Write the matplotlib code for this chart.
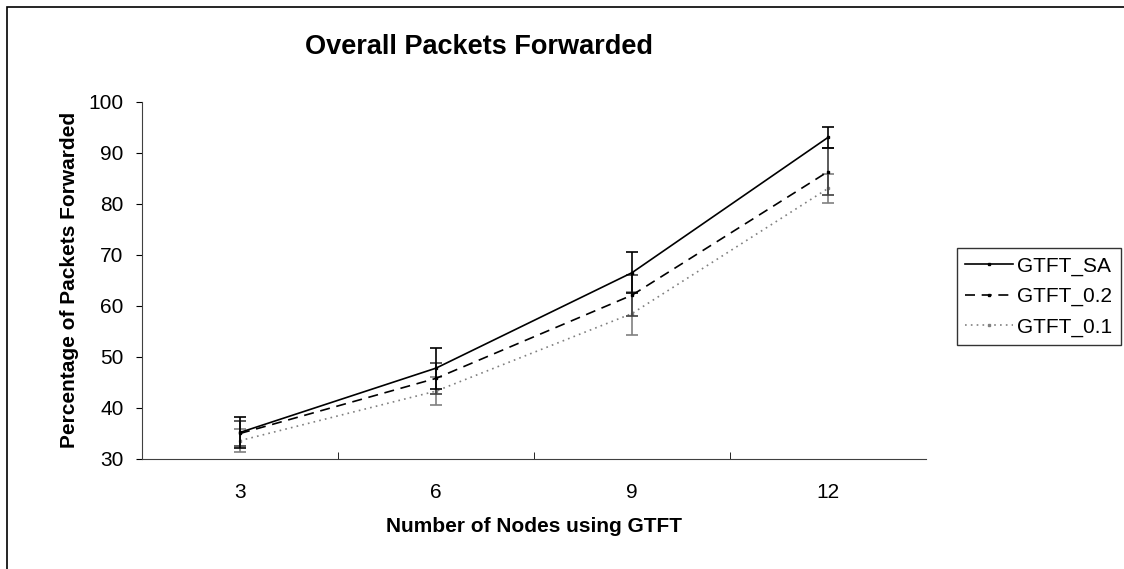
import numpy as np
import matplotlib
matplotlib.use("Agg")
import matplotlib.pyplot as plt
from matplotlib.patches import Rectangle

plt.rcParams['font.family'] = ['Liberation Sans', 'DejaVu Sans']

nodes = ["3", "6", "9", "12"]
sa = [35.2, 47.8, 66.5, 93.0]
sa_err = [3.0, 4.0, 4.0, 2.0]
g02 = [35.0, 45.8, 62.1, 86.3]
g02_err = [2.5, 3.0, 4.0, 4.6]
g01 = [33.6, 43.3, 58.5, 83.0]
g01_err = [2.2, 2.7, 4.2, 2.8]

fig = plt.figure(figsize=(11.24, 5.69), dpi=100)
ax = fig.add_axes([142 / 1124, 1 - 459 / 569, 784 / 1124, (459 - 101.7) / 569])

x = np.arange(len(nodes))

ax.errorbar(x, g01, yerr=g01_err, color="#808080", ls=(0, (1, 2.5)), lw=1.2,
            marker='s', ms=1.5, capsize=4, elinewidth=1.2, capthick=1.2, label="GTFT_0.1", zorder=2)
ax.errorbar(x, g02, yerr=g02_err, color="#000000", ls=(0, (6, 4)), lw=1.2,
            marker='s', ms=1.5, capsize=4, elinewidth=1.2, capthick=1.2,
            ecolor="#404040", label="GTFT_0.2", zorder=3)
ax.errorbar(x, sa, yerr=sa_err, color="#000000", ls='-', lw=1.2,
            marker='s', ms=1.5, capsize=4, elinewidth=1.2, capthick=1.2, label="GTFT_SA", zorder=4)

ax.set_xlim(-0.5, 3.5)
ax.set_ylim(30, 100)
ax.set_yticks(np.arange(30, 101, 10))
ax.set_xticks(x)
ax.set_xticklabels(nodes)
ax.set_xticks(np.arange(0.5, 3.5, 1), minor=True)
ax.tick_params(axis='x', which='major', length=0, pad=17, labelsize=15)
ax.tick_params(axis='x', which='minor', length=5, direction='in')
ax.tick_params(axis='y', length=4.3, direction='out', labelsize=15, pad=9)
for s in ['top', 'right']:
    ax.spines[s].set_visible(False)
for s in ['left', 'bottom']:
    ax.spines[s].set_color("#404040")

ax.set_xlabel("Number of Nodes using GTFT", fontsize=15, fontweight='bold', labelpad=11)
ax.set_ylabel("Percentage of Packets Forwarded", fontsize=15, fontweight='bold', labelpad=7)
fig.text(305 / 1124, 1 - 54 / 569, "Overall Packets Forwarded", fontsize=19.5,
         fontweight='bold', ha='left', va='baseline')

handles, labels = ax.get_legend_handles_labels()
order = [2, 1, 0]
leg = fig.legend([handles[i][0] for i in order], [labels[i] for i in order],
                 loc='upper left', bbox_to_anchor=(957 / 1124, 1 - 248 / 569),
                 frameon=True, fancybox=False, fontsize=15, handlelength=2.3,
                 handletextpad=0.2, borderaxespad=0, borderpad=0.4, labelspacing=0.55)
leg.get_frame().set_edgecolor('black')
leg.get_frame().set_linewidth(1.0)

fig.patches.append(Rectangle((7 / 1124, -0.1), 1.2, 1 - 7 / 569 + 0.1, transform=fig.transFigure,
                             fill=False, edgecolor='black', lw=1.2))

fig.savefig("out.png", dpi=100)
